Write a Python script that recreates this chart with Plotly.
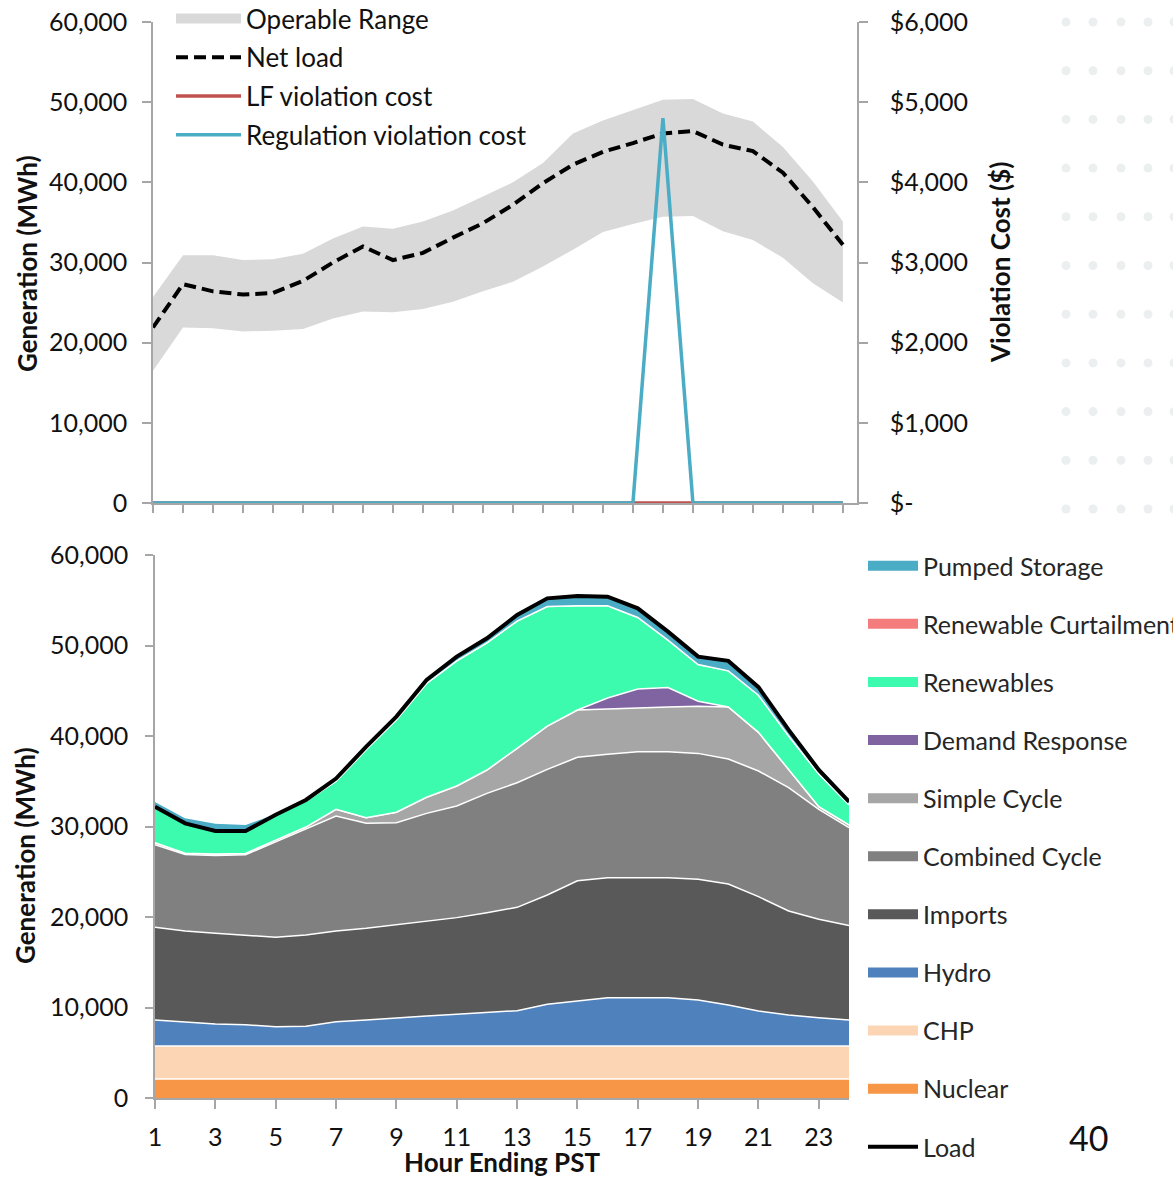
import plotly.graph_objects as go

W, H = 1173, 1177
FONT = "Lato"

hours = list(range(1, 25))

# ---------------- top chart data ----------------
net_load = [21900, 27300, 26400, 26000, 26200, 27700, 30000, 32000, 30300, 31200, 33100, 34900,
            37200, 39900, 42200, 43800, 44900, 46100, 46400, 44700, 43900, 41200, 36900, 32200]
range_low = [16500, 21900, 21800, 21400, 21500, 21700, 23000, 23900, 23800, 24200, 25100, 26400,
             27600, 29500, 31600, 33800, 34800, 35700, 35800, 33900, 32800, 30600, 27400, 25000]
range_high = [25700, 30900, 30900, 30300, 30400, 31100, 33000, 34500, 34200, 35100, 36500, 38200,
              40000, 42400, 46100, 47700, 49000, 50300, 50400, 48600, 47600, 44400, 40100, 35100]
lf_cost = [0, 0, 0, 0, 0, 0, 0, 0, 0, 0, 0, 0, 0, 0, 0, 0, 0, 0, 0, 0, 0, 0, 0, 0]
reg_cost = [0, 0, 0, 0, 0, 0, 0, 0, 0, 0, 0, 0, 0, 0, 0, 0, 0, 4800, 0, 0, 0, 0, 0, 0]

# ---------------- bottom chart data ----------------
nuclear = [2100, 2100, 2100, 2100, 2100, 2100, 2100, 2100, 2100, 2100, 2100, 2100,
           2100, 2100, 2100, 2100, 2100, 2100, 2100, 2100, 2100, 2100, 2100, 2100]
chp = [3650, 3650, 3650, 3650, 3650, 3650, 3650, 3650, 3650, 3650, 3650, 3650,
       3650, 3650, 3650, 3650, 3650, 3650, 3650, 3650, 3650, 3650, 3650, 3650]
hydro = [2870, 2610, 2430, 2350, 2130, 2170, 2680, 2870, 3050, 3310, 3500, 3680,
         3900, 4600, 4970, 5330, 5330, 5330, 5080, 4530, 3860, 3420, 3120, 2870]
imports = [10240, 10090, 10020, 9910, 9880, 10090, 10020, 10130, 10320, 10430, 10680, 11050,
           11420, 12080, 13290, 13270, 13270, 13270, 13340, 13370, 12640, 11490, 10880, 10430]
combined = [9140, 8450, 8600, 8870, 10540, 11680, 12710, 11600, 11300, 11960, 12330, 13180,
            13770, 13880, 13630, 13620, 13910, 13910, 13910, 13810, 13880, 13640, 12150, 10820]
simple = [200, 150, 150, 150, 200, 250, 740, 630, 1150, 1780, 2220, 2580,
          3800, 4790, 5230, 5030, 4840, 4940, 5220, 5740, 4270, 1940, 290, 300]
demand_resp = [0, 0, 0, 0, 0, 0, 0, 0, 0, 0, 0, 0,
               0, 0, 0, 1200, 2100, 2150, 550, 0, 0, 0, 0, 0]
renewables = [3900, 3250, 2650, 2520, 2800, 2860, 3100, 7520, 10230, 12570, 13820, 14060,
              14060, 13200, 11530, 10200, 7900, 5250, 4050, 4000, 4100, 3760, 3610, 2230]
curtailment = [0, 0, 0, 0, 0, 0, 0, 0, 0, 0, 0, 0, 0, 0, 0, 0, 0, 0, 0, 0, 0, 0, 0, 0]
pumped = [700, 700, 800, 700, 150, 100, 300, 320, 340, 390, 470, 500,
          670, 900, 1050, 1000, 1000, 900, 850, 1100, 900, 650, 450, 350]
load = [32190, 30350, 29500, 29500, 31300, 32930, 35300, 38820, 42140, 46190, 48770, 50800,
        53370, 55210, 55470, 55390, 54110, 51530, 48770, 48300, 45400, 40670, 36250, 32740]

gen_ticks = [0, 10000, 20000, 30000, 40000, 50000, 60000]
cost_ticks = [0, 1000, 2000, 3000, 4000, 5000, 6000]
cost_labels = ["$-", "$1,000", "$2,000", "$3,000", "$4,000", "$5,000", "$6,000"]
bottom_xticks = [1, 3, 5, 7, 9, 11, 13, 15, 17, 19, 21, 23]

stack_series = [
    ("Nuclear", nuclear, "#F79646"),
    ("CHP", chp, "#FCD5B5"),
    ("Hydro", hydro, "#4F81BD"),
    ("Imports", imports, "#595959"),
    ("Combined Cycle", combined, "#808080"),
    ("Simple Cycle", simple, "#A6A6A6"),
    ("Demand Response", demand_resp, "#8064A2"),
    ("Renewables", renewables, "#3DFBAE"),
    ("Renewable Curtailment", curtailment, "#F47C7C"),
    ("Pumped Storage", pumped, "#4BACC6"),
]

fig = go.Figure()

# ---- top chart ----
fig.add_trace(go.Scatter(x=hours, y=range_low, mode="lines", line=dict(width=0, color="#D9D9D9"),
                         showlegend=False, xaxis="x", yaxis="y", hoverinfo="skip"))
fig.add_trace(go.Scatter(x=hours, y=range_high, mode="lines", line=dict(width=0, color="#D9D9D9"),
                         fill="tonexty", fillcolor="#D9D9D9", name="Operable Range",
                         showlegend=False, xaxis="x", yaxis="y"))
# legend entry (no data) for the operable range box
fig.add_trace(go.Scatter(x=[None], y=[None], mode="lines", name="Operable Range",
                         line=dict(color="#D9D9D9", width=18),
                         legend="legend", legendgroup="g1", legendrank=1, xaxis="x", yaxis="y"))
fig.add_trace(go.Scatter(x=hours, y=net_load, mode="lines", name="Net load",
                         line=dict(color="black", width=4, dash="12px,6px"),
                         legend="legend", legendgroup="g2", legendrank=2, xaxis="x", yaxis="y"))
fig.add_trace(go.Scatter(x=hours, y=lf_cost, mode="lines", name="LF violation cost",
                         line=dict(color="#C0504D", width=3.5),
                         legend="legend", legendgroup="g3", legendrank=3, xaxis="x", yaxis="y2"))
fig.add_trace(go.Scatter(x=hours, y=reg_cost, mode="lines", name="Regulation violation cost",
                         line=dict(color="#4BACC6", width=3.5),
                         legend="legend", legendgroup="g4", legendrank=4, xaxis="x", yaxis="y2"))

# ---- bottom chart ----
n = len(stack_series)
for i, (name, vals, col) in enumerate(stack_series):
    fig.add_trace(go.Scatter(x=hours, y=vals, mode="lines", name=name, stackgroup="gen",
                             line=dict(color="white", width=1.5), fillcolor=col,
                             showlegend=False, xaxis="x3", yaxis="y3"))
    # legend entry (no data) drawn as a thick bar
    fig.add_trace(go.Scatter(x=[None], y=[None], mode="lines", name=name,
                             line=dict(color=col, width=12),
                             legend="legend2", legendgroup="b" + str(i), legendrank=n - i,
                             xaxis="x3", yaxis="y3"))
fig.add_trace(go.Scatter(x=hours, y=load, mode="lines", name="Load",
                         line=dict(color="black", width=4),
                         legend="legend2", legendgroup="bload", legendrank=20,
                         xaxis="x3", yaxis="y3"))

axis_common = dict(showline=True, linecolor="#A6A6A6", linewidth=1.5, showgrid=False,
                   zeroline=False, ticks="outside", tickcolor="#A6A6A6", tickwidth=1.5,
                   ticklabeloverflow="allow",
                   tickfont=dict(family=FONT, size=25, color="#111111"))


def px(x):
    """page x pixel -> paper fraction"""
    return x / W


def py(y):
    """page y pixel -> paper fraction"""
    return 1 - y / H


fig.update_layout(
    width=W, height=H,
    margin=dict(l=0, r=0, t=0, b=0, autoexpand=False),
    paper_bgcolor="white", plot_bgcolor="rgba(0,0,0,0)",
    font=dict(family=FONT, color="#111111"),
    xaxis=dict(domain=[px(153), px(857)], range=[1, 24.47], tickvals=hours, ticklen=8,
               showticklabels=False, anchor="y", **axis_common),
    yaxis=dict(domain=[py(503), py(22)], range=[0, 60000], tickvals=gen_ticks, tickformat=",d",
               ticklen=9, ticklabelstandoff=10, anchor="x", **axis_common),
    yaxis2=dict(range=[0, 6000], tickvals=cost_ticks, ticktext=cost_labels, overlaying="y",
                side="right", anchor="x", ticklen=9, ticklabelstandoff=17, **axis_common),
    xaxis3=dict(domain=[px(155), px(849)], range=[1, 24], tickvals=bottom_xticks, ticklen=9,
                anchor="y3", ticklabelstandoff=7, **axis_common),
    yaxis3=dict(domain=[py(1098), py(555)], range=[0, 60000], tickvals=gen_ticks,
                tickformat=",d", ticklen=8, ticklabelstandoff=12, anchor="x3", **axis_common),
    legend=dict(x=px(171), y=py(-5), xanchor="left", yanchor="top", bgcolor="rgba(0,0,0,0)",
                traceorder="grouped", tracegroupgap=2, itemwidth=65,
                font=dict(family=FONT, size=26, color="#111111")),
    legend2=dict(x=px(863), y=py(543), xanchor="left", yanchor="top", bgcolor="rgba(0,0,0,0)",
                 traceorder="grouped", tracegroupgap=22.6, itemwidth=50,
                 font=dict(family=FONT, size=25, color="#262626")),
    showlegend=True,
)

annotations = [
    dict(text="<b>Generation (MWh)</b>", x=px(27), y=py(264), textangle=-90, size=26),
    dict(text="<b>Generation (MWh)</b>", x=px(25), y=py(856), textangle=-90, size=26),
    dict(text="<b>Violation Cost ($)</b>", x=px(1000), y=py(263), textangle=-90, size=26),
    dict(text="<b>Hour Ending PST</b>", x=px(502), y=py(1162), textangle=0, size=26),
    dict(text="40", x=px(1088), y=py(1137), textangle=0, size=34),
]
fig.update_layout(annotations=[
    dict(text=a["text"], x=a["x"], y=a["y"], textangle=a["textangle"], xref="paper", yref="paper",
         showarrow=False, xanchor="center", yanchor="middle",
         font=dict(family=FONT, size=a["size"], color="#111111"))
    for a in annotations])

# faint decorative dot grid (background ornament, upper right)
shapes = []
for cx in [1066, 1093, 1121, 1148, 1174]:
    for k in range(11):
        cy = 22 + k * 48.7
        shapes.append(dict(type="circle", xref="paper", yref="paper", layer="below",
                           x0=px(cx - 4.5), x1=px(cx + 4.5), y0=py(cy + 4.5), y1=py(cy - 4.5),
                           fillcolor="#ECEFEF", line=dict(width=0)))
fig.update_layout(shapes=shapes)

# remove the browser's default page margin so the figure fills the window exactly
fig.write_html("out.html",
               config={"displayModeBar": False},
               post_script="document.body.style.margin='0px';document.body.style.overflow='hidden';")
